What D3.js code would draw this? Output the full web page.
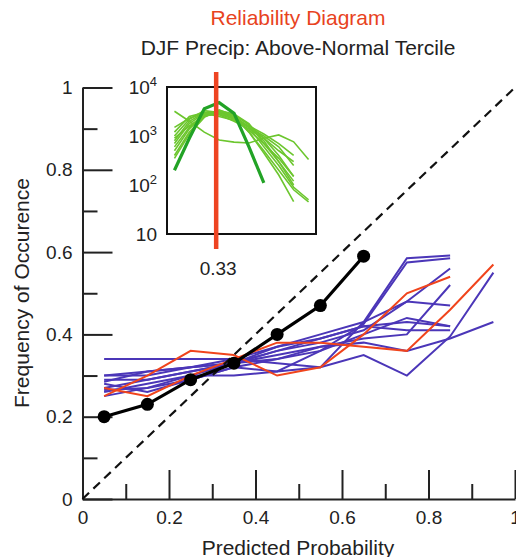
<!DOCTYPE html>
<html>
<head>
<meta charset="utf-8">
<script src="https://cdn.jsdelivr.net/npm/d3@7"></script>
<style>
  body { margin: 0; background: #fff; }
  svg { display: block; font-family: "Liberation Sans", Arial, sans-serif; }
  .axis path, .axis line { stroke: #222; stroke-width: 2; }
  .axis text { font-size: 19px; fill: #222; font-family: "Liberation Sans", Arial, sans-serif; }
</style>
</head>
<body>
<svg width="516" height="557"></svg>
<script>
// forecast probability bins (bin centres)
var bins = [0.05, 0.15, 0.25, 0.35, 0.45, 0.55, 0.65, 0.75, 0.85, 0.95];

// multi-model ensemble (black)
var mme = [0.20, 0.23, 0.29, 0.33, 0.40, 0.47, 0.59];

// individual models, observed frequency per bin
var blueModels = [
  [0.34, 0.34, 0.34, 0.34, 0.33, 0.32, 0.43, 0.585, 0.592],
  [0.30, 0.30, 0.32, 0.33, 0.34, 0.36, 0.425, 0.575, 0.585],
  [0.29, 0.29, 0.31, 0.33, 0.36, 0.38, 0.41, 0.48, 0.56],
  [0.27, 0.29, 0.31, 0.33, 0.35, 0.37, 0.39, 0.40, 0.52],
  [0.285, 0.31, 0.32, 0.34, 0.37, 0.40, 0.43, 0.48, 0.47],
  [0.30, 0.31, 0.32, 0.33, 0.36, 0.39, 0.42, 0.43, 0.42],
  [0.26, 0.28, 0.30, 0.33, 0.37, 0.39, 0.42, 0.41, 0.41],
  [0.265, 0.27, 0.29, 0.32, 0.34, 0.37, 0.38, 0.36, 0.39, 0.43],
  [0.25, 0.27, 0.30, 0.30, 0.31, 0.32, 0.35, 0.30, 0.395, 0.55],
  [0.28, 0.26, 0.29, 0.32, 0.31, 0.36, 0.40, 0.44, 0.42]
];
var redModels = [
  [0.25, 0.30, 0.36, 0.35, 0.30, 0.32, 0.40, 0.50, 0.54],
  [0.27, 0.25, 0.30, 0.34, 0.38, 0.38, 0.37, 0.36, 0.46, 0.57]
];

// inset: number of forecasts per bin (log scale)
var mmeCounts = [200, 900, 3600, 4800, 2900, 600, 110];
var modelCounts = [
  [3200, 2000, 1200, 830, 750, 720, 900, 1050, 760, 330],
  [600, 1500, 2800, 3000, 2600, 1500, 600, 250, 90, 50],
  [800, 2000, 3000, 3200, 2500, 1200, 500, 200, 80, 45],
  [1000, 2200, 3300, 3000, 2400, 1500, 800, 300, 120],
  [700, 1800, 2900, 2800, 2200, 1300, 700, 350, 150],
  [400, 1200, 2500, 3100, 2700, 1700, 900, 400, 150],
  [1200, 2500, 3000, 2700, 2000, 1400, 900, 500, 300],
  [900, 1600, 2600, 2800, 2300, 1600, 1100, 700, 400],
  [500, 1400, 2700, 3300, 2800, 1800, 700, 300, 100],
  [1500, 2300, 2900, 2500, 2100, 1500, 1000, 600, 250],
  [350, 1100, 2400, 3400, 2600, 1200, 450, 160, 46]
];

var majorTicks = [0, 0.2, 0.4, 0.6, 0.8, 1];
var minorTicks = [0.1, 0.3, 0.5, 0.7, 0.9];
var insetTicks = [10, 100, 1000, 10000];
var climo = 0.33;

var svg = d3.select("svg");

var xScale = d3.scaleLinear().domain([0, 1]).range([82.5, 515]);
var yScale = d3.scaleLinear().domain([0, 1]).range([499, 87.5]);

var fmt = d3.format("~g");

// titles
svg.append("text").attr("x", 298).attr("y", 25).attr("text-anchor", "middle")
  .style("font-size", "21px").style("fill", "#e8431e").text("Reliability Diagram");
svg.append("text").attr("x", 298).attr("y", 55).attr("text-anchor", "middle")
  .style("font-size", "21px").style("fill", "#222").text("DJF Precip: Above-Normal Tercile");

// axes: minor ticks first, then major with labels
svg.append("g").attr("class", "axis")
  .attr("transform", "translate(0," + yScale(0) + ")")
  .call(d3.axisBottom(xScale).tickValues(minorTicks).tickSize(-15).tickFormat(""))
  .select(".domain").remove();
svg.append("g").attr("class", "axis")
  .attr("transform", "translate(" + xScale(0) + ",0)")
  .call(d3.axisLeft(yScale).tickValues(minorTicks).tickSize(-15).tickFormat(""))
  .select(".domain").remove();

svg.append("g").attr("class", "axis")
  .attr("transform", "translate(0," + yScale(0) + ")")
  .call(d3.axisBottom(xScale).tickValues(majorTicks).tickSize(-29).tickSizeOuter(0).tickPadding(12).tickFormat(fmt));
svg.append("g").attr("class", "axis")
  .attr("transform", "translate(" + xScale(0) + ",0)")
  .call(d3.axisLeft(yScale).tickValues(majorTicks).tickSize(-30).tickSizeOuter(0).tickPadding(10).tickFormat(fmt));

// axis titles
svg.append("text").attr("x", 298).attr("y", 555).attr("text-anchor", "middle")
  .style("font-size", "21px").style("fill", "#222").text("Predicted Probability");
svg.append("text").attr("transform", "translate(29,293) rotate(-90)").attr("text-anchor", "middle")
  .style("font-size", "21px").style("fill", "#222").text("Frequency of Occurence");

var line = d3.line()
  .x(function (d, i) { return xScale(bins[i]); })
  .y(function (d) { return yScale(d); });

svg.append("g").selectAll("path").data(blueModels).join("path")
  .attr("d", line).attr("fill", "none").attr("stroke", "#4b36b8").attr("stroke-width", 2);
svg.append("g").selectAll("path").data(redModels).join("path")
  .attr("d", line).attr("fill", "none").attr("stroke", "#f0441c").attr("stroke-width", 2);

// perfect reliability
svg.append("line")
  .attr("x1", xScale(0)).attr("y1", yScale(0))
  .attr("x2", xScale(1)).attr("y2", yScale(1))
  .attr("stroke", "#111").attr("stroke-width", 2.2).attr("stroke-dasharray", "9,6");

svg.append("path").datum(mme).attr("d", line)
  .attr("fill", "none").attr("stroke", "#000").attr("stroke-width", 3.2);
svg.append("g").selectAll("circle").data(mme).join("circle")
  .attr("cx", function (d, i) { return xScale(bins[i]); })
  .attr("cy", function (d) { return yScale(d); })
  .attr("r", 6.5).attr("fill", "#000");

// inset histogram
var ix = d3.scaleLinear().domain([0, 1]).range([167, 316]);
var iy = d3.scaleLog().domain([10, 10000]).range([234, 87]);

var inset = svg.append("g");
inset.append("rect").attr("x", 167).attr("y", 87).attr("width", 149).attr("height", 147)
  .attr("fill", "#fff").attr("stroke", "#111").attr("stroke-width", 2);

var iline = d3.line()
  .x(function (d, i) { return ix(bins[i]); })
  .y(function (d) { return iy(d); });

inset.append("g").selectAll("path").data(modelCounts).join("path")
  .attr("d", iline).attr("fill", "none").attr("stroke", "#6cc62e").attr("stroke-width", 1.6);
inset.append("path").datum(mmeCounts).attr("d", iline)
  .attr("fill", "none").attr("stroke", "#22a326").attr("stroke-width", 3.2);

inset.append("line")
  .attr("x1", ix(climo)).attr("x2", ix(climo))
  .attr("y1", iy(10000) - 15).attr("y2", iy(10) + 15)
  .attr("stroke", "#ee4422").attr("stroke-width", 4.5);

inset.append("text").attr("x", ix(climo) + 2).attr("y", 275).attr("text-anchor", "middle")
  .style("font-size", "19px").style("fill", "#222").text(climo);

var lab = inset.append("g").selectAll("text").data(insetTicks).join("text")
  .attr("x", 157).attr("y", function (d) { return iy(d) + 7; })
  .attr("text-anchor", "end").style("font-size", "19px").style("fill", "#222");
lab.append("tspan").text("10");
lab.filter(function (d) { return d > 10; }).append("tspan")
  .attr("dy", -8).style("font-size", "13px")
  .text(function (d) { return Math.round(Math.log10(d)); });
</script>
</body>
</html>
